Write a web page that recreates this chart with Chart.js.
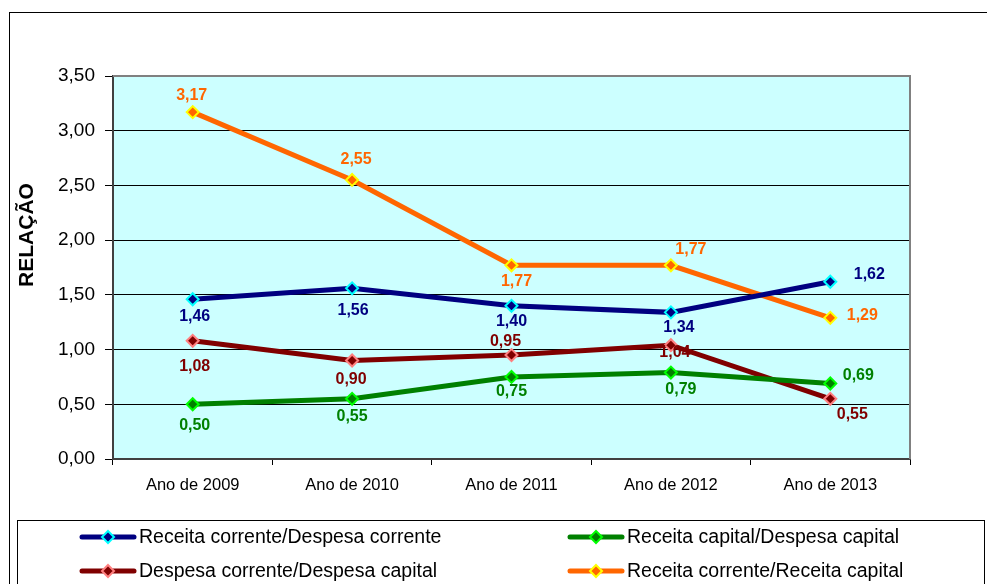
<!DOCTYPE html>
<html>
<head>
<meta charset="utf-8">
<script src="https://cdn.jsdelivr.net/npm/chart.js@4.4.1/dist/chart.umd.min.js"></script>
<style>
  body { margin: 0; background: #fff; }
  #wrap { width: 987px; height: 584px; }
</style>
</head>
<body>
<div id="wrap"><canvas id="relCanvas" width="987" height="584"></canvas></div>
<script>
// categories and series
const years = ["Ano de 2009", "Ano de 2010", "Ano de 2011", "Ano de 2012", "Ano de 2013"];
const recCorDespCor = [1.46, 1.56, 1.40, 1.34, 1.62];
const recCapDespCap = [0.50, 0.55, 0.75, 0.79, 0.69];
const despCorDespCap = [1.08, 0.90, 0.95, 1.04, 0.55];
const recCorRecCap = [3.17, 2.55, 1.77, 1.77, 1.29];

// where each value label sits relative to its point (dx, dy in px)
const offBlue = [[2, 17], [1, 22], [0, 16], [8, 15], [39, -7]];
const offGreen = [[2, 21], [0, 18], [0, 15], [10, 17], [28, -8]];
const offRed = [[2, 26], [-1, 19], [-6, -13], [4, 7], [22, 16]];
const offOrange = [[-1, -17], [4, -20], [5, 16], [20, -16], [32, -2]];

Chart.defaults.font.family = "'Liberation Sans', Arial, sans-serif";
Chart.defaults.color = "#000";

function fmt(v) { return v.toFixed(2).replace(".", ","); }

function serie(label, data, line, fill, edge, offs) {
	return {
		label: label,
		data: data,
		borderColor: line,
		borderWidth: 5,
		backgroundColor: line,
		pointStyle: "rectRot",
		pointRadius: 6,
		pointHoverRadius: 6,
		pointBackgroundColor: fill,
		pointBorderColor: edge,
		pointBorderWidth: 2,
		tension: 0,
		labelOffsets: offs,
		markerFill: fill,
		markerEdge: edge
	};
}

const framePlugin = {
	id: "frame",
	beforeDraw(chart) {
		const ctx = chart.ctx, a = chart.chartArea;
		ctx.save();
		ctx.fillStyle = "#fff";
		ctx.fillRect(0, 0, chart.width, chart.height);
		ctx.strokeStyle = "#000";
		ctx.lineWidth = 1;
		ctx.strokeRect(9.5, 12.5, 2000, 2000);
		ctx.fillStyle = "#ccffff";
		ctx.fillRect(a.left, a.top, a.right - a.left, a.bottom - a.top);
		ctx.restore();
	},
	afterDraw(chart) {
		const ctx = chart.ctx, a = chart.chartArea;
		ctx.save();
		// gray plot border top and right
		ctx.strokeStyle = "#808080";
		ctx.lineWidth = 2;
		ctx.beginPath();
		ctx.moveTo(a.left, a.top);
		ctx.lineTo(a.right, a.top);
		ctx.lineTo(a.right, a.bottom);
		ctx.stroke();

		// axis title, sits a bit above the middle like the original
		ctx.save();
		ctx.translate(27, 235);
		ctx.rotate(-Math.PI / 2);
		ctx.font = "bold 21px 'Liberation Sans', Arial, sans-serif";
		ctx.textAlign = "center";
		ctx.textBaseline = "middle";
		ctx.fillStyle = "#000";
		ctx.fillText("RELAÇÃO", 0, 0);
		ctx.restore();

		// value labels
		ctx.font = "bold 16px 'Liberation Sans', Arial, sans-serif";
		ctx.textAlign = "center";
		ctx.textBaseline = "middle";
		chart.data.datasets.forEach((ds, i) => {
			const meta = chart.getDatasetMeta(i);
			ctx.fillStyle = ds.borderColor;
			meta.data.forEach((pt, j) => {
				const o = ds.labelOffsets[j];
				ctx.fillText(fmt(ds.data[j]), pt.x + o[0], pt.y + o[1]);
			});
		});

		// legend box
		ctx.strokeStyle = "#000";
		ctx.lineWidth = 1;
		ctx.strokeRect(17.5, 520.5, 967, 100);
		const slots = [[80, 537], [568, 537], [80, 571], [568, 571]];
		ctx.font = "19.5px 'Liberation Sans', Arial, sans-serif";
		ctx.textAlign = "left";
		chart.data.datasets.forEach((ds, k) => {
			const x = slots[k][0], y = slots[k][1];
			ctx.strokeStyle = ds.borderColor;
			ctx.lineWidth = 5;
			ctx.lineCap = "round";
			ctx.beginPath();
			ctx.moveTo(x + 2, y);
			ctx.lineTo(x + 54, y);
			ctx.stroke();
			ctx.beginPath();
			ctx.moveTo(x + 28, y - 6);
			ctx.lineTo(x + 34, y);
			ctx.lineTo(x + 28, y + 6);
			ctx.lineTo(x + 22, y);
			ctx.closePath();
			ctx.fillStyle = ds.markerFill;
			ctx.fill();
			ctx.strokeStyle = ds.markerEdge;
			ctx.lineWidth = 2;
			ctx.stroke();
			ctx.fillStyle = "#000";
			ctx.fillText(ds.label, x + 59, y + 1);
		});
		ctx.restore();
	}
};

var ctx = document.getElementById("relCanvas");
var chart = new Chart(ctx, {
	type: "line",
	data: {
		labels: years,
		datasets: [
			serie("Receita corrente/Despesa corrente", recCorDespCor, "#000080", "#000080", "#00ffff", offBlue),
			serie("Receita capital/Despesa capital", recCapDespCap, "#008000", "#008000", "#00ff00", offGreen),
			serie("Despesa corrente/Despesa capital", despCorDespCap, "#800000", "#800000", "#ff8080", offRed),
			serie("Receita corrente/Receita capital", recCorRecCap, "#ff6600", "#ff6600", "#ffff00", offOrange)
		]
	},
	options: {
		responsive: false,
		animation: false,
		layout: { padding: { left: 16, right: 77, top: 76, bottom: 0 } },
		plugins: {
			legend: { display: false },
			tooltip: { enabled: false }
		},
		scales: {
			x: {
				offset: true,
				grid: { offset: true, drawOnChartArea: false, tickLength: 6, color: "#000" },
				border: { color: "#404040", width: 2 },
				ticks: { font: { size: 16.5 }, color: "#000", padding: 11 },
				afterFit: s => { s.height = 125; }
			},
			y: {
				min: 0,
				max: 3.5,
				ticks: {
					stepSize: 0.5,
					font: { size: 19 },
					color: "#000",
					padding: 10,
					callback: v => fmt(v)
				},
				grid: { color: "#000", lineWidth: 1, tickLength: 8 },
				border: { color: "#404040", width: 2 },
				afterFit: s => { s.width = 97; }
			}
		}
	},
	plugins: [framePlugin]
});
</script>
</body>
</html>
